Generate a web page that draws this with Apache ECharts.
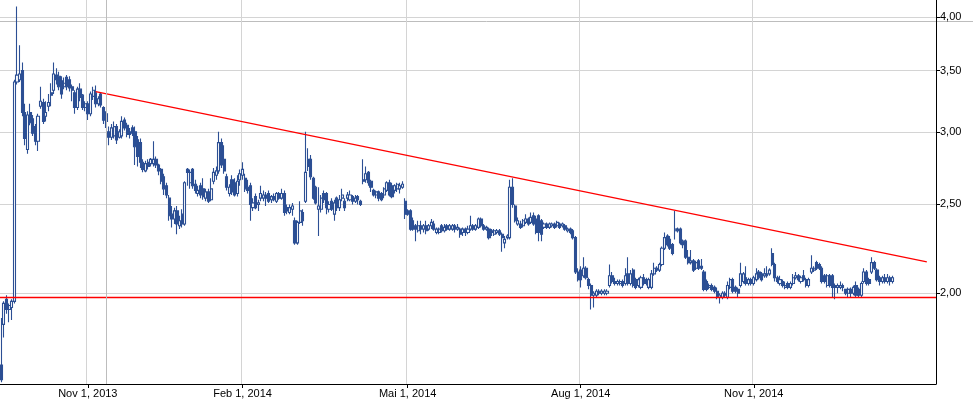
<!DOCTYPE html>
<html><head><meta charset="utf-8">
<script src="https://cdn.jsdelivr.net/npm/echarts@6/dist/echarts.min.js"></script>
<style>html,body{margin:0;padding:0;background:#fff}#c{width:973px;height:401px}</style>
</head><body><div id="c"></div>
<script>
// ---- data ----
const startDate = '2013-09-17';
const endDate = '2015-02-13';
const holidays = ['2013-12-24','2013-12-25','2013-12-26','2013-12-27','2013-12-31','2014-01-01','2014-01-02','2014-12-24','2014-12-25','2014-12-26','2014-12-31','2015-01-01'];
const tickDates = ['2013-11-01','2014-02-01','2014-05-01','2014-08-01','2014-11-01'];
const tickLabels = ['Nov 1, 2013','Feb 1, 2014','Mai 1, 2014','Aug 1, 2014','Nov 1, 2014'];
const yTicks = [2.0, 2.5, 3.0, 3.5, 4.0];
const yMin = 1.5926, yMax = 4.178;
const supportLevel = 1.975;
const trendStart = ['2013-11-06', 3.32];
const trendEnd = ['2015-02-10', 2.164];
const markerDate = '2013-11-12';
// [open, close, low, high]
const prices = [
[1.67,1.61,1.60,1.88],[1.85,1.95,1.79,1.96],[1.97,1.92,1.90,1.99],[1.92,1.94,1.86,1.95],[1.93,1.96,1.87,1.97],
[1.96,3.40,1.95,3.42],[3.40,3.46,3.38,4.11],[3.42,3.47,3.40,3.73],[3.50,3.15,3.12,3.57],[3.15,2.95,2.90,3.22],
[2.87,3.13,2.84,3.16],[3.15,3.07,3.05,3.22],[3.10,2.99,2.97,3.13],[3.04,2.93,2.90,3.06],[2.93,3.12,2.86,3.14],
[3.20,3.24,3.18,3.36],[3.23,3.08,3.06,3.26],[3.12,3.15,3.08,3.24],[3.20,3.23,3.16,3.30],[3.31,3.29,3.20,3.39],
[3.33,3.47,3.30,3.57],[3.46,3.42,3.38,3.52],[3.45,3.36,3.33,3.49],[3.41,3.30,3.26,3.45],[3.36,3.39,3.34,3.44],
[3.44,3.36,3.33,3.46],[3.42,3.35,3.32,3.45],[3.36,3.33,3.24,3.38],[3.31,3.19,3.14,3.33],[3.19,3.34,3.17,3.36],
[3.34,3.27,3.24,3.39],[3.29,3.19,3.17,3.30],[3.19,3.22,3.16,3.24],[3.22,3.14,3.09,3.24],[3.14,3.30,3.12,3.32],
[3.28,3.33,3.25,3.36],[3.31,3.22,3.19,3.37],[3.22,3.26,3.20,3.28],[3.30,3.21,3.19,3.31],[3.19,3.09,3.06,3.20],
[3.14,3.08,3.03,3.16],[3.00,2.96,2.90,3.04],[2.96,3.03,2.94,3.06],[2.97,3.04,2.95,3.08],[3.04,2.94,2.91,3.06],
[2.96,3.00,2.95,3.02],[2.97,3.08,2.95,3.12],[3.09,3.03,3.01,3.11],[3.05,2.98,2.96,3.07],[3.00,2.98,2.95,3.03],
[3.03,2.99,2.97,3.05],[3.00,2.89,2.76,3.04],[2.94,2.82,2.75,2.97],[2.92,2.78,2.74,2.95],[2.78,2.73,2.71,2.80],
[2.72,2.77,2.71,2.79],[2.78,2.75,2.73,2.80],[2.77,2.80,2.75,2.81],[2.77,2.80,2.75,2.93],[2.80,2.76,2.74,2.82],
[2.76,2.72,2.69,2.77],[2.73,2.65,2.63,2.74],[2.68,2.60,2.56,2.70],[2.62,2.56,2.54,2.64],[2.54,2.43,2.40,2.56],
[2.44,2.41,2.36,2.49],[2.41,2.46,2.38,2.48],[2.46,2.38,2.32,2.49],[2.37,2.40,2.35,2.43],[2.44,2.38,2.36,2.47],
[2.38,2.64,2.37,2.65],[2.73,2.71,2.62,2.74],[2.64,2.71,2.60,2.73],[2.73,2.62,2.60,2.74],[2.63,2.59,2.57,2.66],
[2.57,2.59,2.55,2.62],[2.62,2.56,2.54,2.64],[2.60,2.55,2.53,2.67],[2.54,2.58,2.52,2.60],[2.58,2.52,2.51,2.60],
[2.53,2.60,2.52,2.67],[2.65,2.71,2.63,2.74],[2.69,2.72,2.66,2.75],[2.72,2.92,2.70,3.00],[2.92,2.76,2.74,2.95],
[2.80,2.72,2.70,2.90],[2.68,2.61,2.59,2.70],[2.57,2.61,2.55,2.63],[2.66,2.58,2.56,2.69],[2.64,2.56,2.55,2.67],
[2.57,2.65,2.55,2.69],[2.66,2.70,2.62,2.73],[2.69,2.73,2.66,2.78],[2.67,2.60,2.58,2.70],[2.61,2.59,2.57,2.66],
[2.62,2.50,2.40,2.64],[2.48,2.51,2.46,2.54],[2.55,2.48,2.47,2.57],[2.50,2.51,2.46,2.53],[2.54,2.57,2.52,2.62],
[2.54,2.56,2.52,2.59],[2.56,2.54,2.49,2.58],[2.57,2.52,2.51,2.59],[2.53,2.55,2.51,2.56],[2.55,2.53,2.52,2.57],
[2.52,2.57,2.51,2.58],[2.57,2.54,2.53,2.58],[2.54,2.57,2.53,2.60],[2.57,2.45,2.43,2.59],[2.48,2.46,2.44,2.50],
[2.45,2.48,2.44,2.50],[2.47,2.49,2.43,2.51],[2.40,2.27,2.26,2.42],[2.27,2.39,2.26,2.40],[2.39,2.46,2.38,2.52],
[2.45,2.40,2.37,2.47],[2.52,2.71,2.51,3.00],[2.80,2.75,2.72,2.88],[2.80,2.68,2.66,2.83],[2.67,2.54,2.53,2.68],
[2.61,2.51,2.50,2.62],[2.47,2.49,2.31,2.61],[2.47,2.54,2.45,2.56],[2.57,2.53,2.51,2.59],[2.57,2.48,2.44,2.58],
[2.47,2.50,2.45,2.52],[2.52,2.47,2.46,2.54],[2.44,2.51,2.40,2.53],[2.54,2.48,2.46,2.55],[2.48,2.53,2.46,2.56],
[2.54,2.56,2.52,2.60],[2.52,2.48,2.46,2.54],[2.54,2.56,2.52,2.58],[2.53,2.56,2.52,2.59],[2.55,2.52,2.50,2.56],
[2.52,2.54,2.51,2.56],[2.55,2.53,2.50,2.56],[2.52,2.50,2.49,2.53],[2.66,2.65,2.63,2.80],[2.66,2.70,2.64,2.75],
[2.71,2.64,2.62,2.72],[2.65,2.61,2.58,2.66],[2.59,2.56,2.55,2.60],[2.56,2.58,2.54,2.59],[2.58,2.54,2.52,2.59],
[2.57,2.53,2.52,2.58],[2.56,2.60,2.54,2.61],[2.59,2.64,2.58,2.65],[2.64,2.56,2.55,2.66],[2.62,2.55,2.54,2.64],
[2.59,2.62,2.57,2.63],[2.60,2.63,2.58,2.64],[2.60,2.62,2.57,2.64],[2.61,2.63,2.60,2.65],[2.52,2.44,2.41,2.54],
[2.46,2.44,2.43,2.47],[2.46,2.35,2.34,2.47],[2.40,2.35,2.34,2.42],[2.37,2.35,2.28,2.38],[2.34,2.37,2.33,2.40],
[2.37,2.35,2.32,2.40],[2.35,2.37,2.33,2.38],[2.37,2.34,2.32,2.40],[2.35,2.37,2.34,2.38],[2.37,2.39,2.35,2.41],
[2.38,2.35,2.34,2.40],[2.33,2.35,2.32,2.36],[2.33,2.35,2.32,2.36],[2.37,2.34,2.33,2.38],[2.34,2.36,2.33,2.38],
[2.37,2.35,2.34,2.38],[2.35,2.37,2.34,2.38],[2.35,2.37,2.34,2.38],[2.37,2.35,2.33,2.38],[2.35,2.36,2.34,2.38],
[2.35,2.32,2.30,2.36],[2.33,2.35,2.31,2.36],[2.35,2.33,2.31,2.36],[2.33,2.35,2.32,2.37],[2.35,2.37,2.34,2.43],
[2.37,2.35,2.34,2.38],[2.35,2.37,2.34,2.38],[2.36,2.41,2.35,2.42],[2.41,2.37,2.36,2.42],[2.37,2.35,2.34,2.38],
[2.35,2.36,2.34,2.37],[2.35,2.30,2.29,2.36],[2.34,2.33,2.31,2.35],[2.32,2.34,2.31,2.35],[2.33,2.34,2.32,2.35],
[2.34,2.32,2.31,2.35],[2.32,2.30,2.22,2.33],[2.27,2.29,2.24,2.31],[2.30,2.31,2.29,2.32],[2.30,2.61,2.29,2.66],
[2.61,2.50,2.48,2.67],[2.49,2.40,2.39,2.50],[2.38,2.40,2.37,2.42],[2.38,2.36,2.35,2.40],[2.37,2.40,2.36,2.41],
[2.39,2.41,2.38,2.44],[2.41,2.38,2.37,2.42],[2.39,2.42,2.38,2.45],[2.43,2.38,2.37,2.45],[2.41,2.33,2.32,2.43],
[2.43,2.33,2.28,2.44],[2.40,2.32,2.28,2.41],[2.36,2.38,2.35,2.39],[2.38,2.36,2.35,2.39],[2.36,2.38,2.35,2.39],
[2.37,2.38,2.36,2.39],[2.38,2.36,2.35,2.39],[2.37,2.39,2.36,2.40],[2.38,2.36,2.35,2.39],[2.37,2.38,2.36,2.39],
[2.37,2.35,2.34,2.38],[2.34,2.35,2.33,2.36],[2.35,2.33,2.32,2.36],[2.34,2.30,2.29,2.35],[2.30,2.11,2.10,2.31],
[2.11,2.07,2.06,2.13],[2.12,2.07,2.03,2.14],[2.09,2.13,2.08,2.19],[2.13,2.08,2.07,2.14],[2.07,2.04,2.02,2.08],
[2.04,1.99,1.92,2.05],[1.99,2.00,1.93,2.01],[1.99,2.01,1.98,2.02],[2.01,2.00,1.99,2.02],[2.00,2.01,1.99,2.02],
[2.00,2.01,1.99,2.02],[2.00,2.01,1.99,2.02],[2.04,2.09,2.03,2.15],[2.09,2.06,2.05,2.11],[2.06,2.05,2.04,2.08],
[2.05,2.06,2.04,2.07],[2.05,2.06,2.04,2.07],[2.06,2.04,2.03,2.07],[2.05,2.09,2.04,2.13],[2.10,2.05,2.04,2.19],
[2.05,2.10,2.04,2.12],[2.12,2.04,2.03,2.13],[2.07,2.03,2.02,2.08],[2.04,2.07,2.03,2.08],[2.03,2.08,2.02,2.09],
[2.08,2.05,2.04,2.10],[2.07,2.05,2.04,2.08],[2.03,2.07,2.02,2.08],[2.03,2.10,2.02,2.12],[2.10,2.13,2.09,2.16],
[2.13,2.12,2.11,2.14],[2.12,2.15,2.11,2.16],[2.15,2.24,2.14,2.25],[2.24,2.30,2.23,2.33],[2.31,2.26,2.25,2.32],
[2.29,2.24,2.23,2.31],[2.26,2.21,2.20,2.27],[2.34,2.35,2.29,2.46],[2.35,2.34,2.33,2.36],[2.35,2.27,2.26,2.36],
[2.28,2.26,2.24,2.29],[2.28,2.19,2.18,2.29],[2.19,2.16,2.15,2.23],[2.16,2.17,2.15,2.23],[2.17,2.12,2.11,2.18],
[2.13,2.16,2.12,2.17],[2.17,2.13,2.12,2.18],[2.14,2.13,2.12,2.18],[2.11,2.02,2.01,2.12],[2.06,2.02,2.01,2.07],
[2.03,2.04,2.02,2.05],[2.04,2.02,2.01,2.05],[2.03,2.01,2.00,2.04],[2.01,1.98,1.97,2.03],[1.98,1.99,1.95,2.00],
[1.98,2.00,1.97,2.01],[2.00,1.99,1.98,2.01],[1.98,2.04,1.97,2.06],[2.03,2.07,2.02,2.08],[2.07,2.01,2.00,2.08],
[2.03,2.01,2.00,2.04],[2.02,2.00,1.98,2.03],[2.04,2.10,2.03,2.16],[2.06,2.10,2.05,2.11],[2.08,2.05,2.04,2.14],
[2.05,2.07,2.04,2.08],[2.07,2.05,2.04,2.08],[2.05,2.08,2.04,2.09],[2.07,2.10,2.06,2.13],[2.11,2.08,2.07,2.12],
[2.10,2.07,2.06,2.11],[2.09,2.10,2.08,2.13],[2.10,2.09,2.08,2.14],[2.10,2.12,2.09,2.13],[2.21,2.15,2.14,2.24],
[2.15,2.08,2.06,2.16],[2.08,2.06,2.05,2.09],[2.05,2.07,2.04,2.09],[2.06,2.04,2.03,2.07],[2.03,2.04,2.02,2.06],
[2.05,2.03,2.02,2.06],[2.03,2.05,2.02,2.06],[2.05,2.08,2.04,2.10],[2.08,2.09,2.07,2.11],[2.09,2.07,2.06,2.10],
[2.06,2.08,2.05,2.09],[2.09,2.07,2.06,2.12],[2.07,2.04,2.03,2.08],[2.04,2.07,2.03,2.08],[2.11,2.13,2.10,2.20],
[2.12,2.13,2.11,2.14],[2.16,2.13,2.12,2.17],[2.15,2.13,2.12,2.16],[2.13,2.06,2.05,2.14],[2.09,2.06,2.05,2.10],
[2.04,2.09,2.03,2.10],[2.09,2.04,2.03,2.10],[2.09,2.03,1.98,2.10],[2.04,2.03,1.97,2.05],[2.03,2.04,2.00,2.05],
[2.03,2.04,2.02,2.06],[2.04,2.03,2.01,2.05],[2.02,2.00,1.99,2.02],[2.00,2.02,1.98,2.03],[2.02,2.00,1.98,2.03],
[2.00,2.03,1.99,2.04],[2.04,1.99,1.98,2.06],[2.02,1.99,1.98,2.03],[1.99,2.05,1.98,2.06],[2.06,2.11,2.05,2.13],
[2.11,2.05,2.04,2.12],[2.07,2.05,2.04,2.08],[2.11,2.16,2.10,2.19],[2.16,2.13,2.12,2.17],[2.12,2.07,2.06,2.13],
[2.08,2.06,2.04,2.09],[2.06,2.08,2.05,2.09],[2.08,2.06,2.05,2.10],[2.06,2.08,2.05,2.10],[2.08,2.06,2.04,2.09],
[2.06,2.08,2.05,2.09]
];

// ---- trading-day categories ----
const categories = [];
(function () {
  let d = new Date(startDate + 'T00:00:00Z');
  const end = new Date(endDate + 'T00:00:00Z');
  while (d <= end) {
    const s = d.toISOString().slice(0, 10);
    const wd = d.getUTCDay();
    if (wd !== 0 && wd !== 6 && holidays.indexOf(s) < 0) categories.push(s);
    d = new Date(d.getTime() + 86400000);
  }
})();
const tickIndex = {};
tickDates.forEach(function (t, k) {
  const i = categories.findIndex(function (c) { return c >= t; });
  tickIndex[i] = tickLabels[k];
});
function isTick(i) { return Object.prototype.hasOwnProperty.call(tickIndex, i); }

const BLUE = '#2c4f94';
const RED = '#ff0000';
const chart = echarts.init(document.getElementById('c'), null, { renderer: 'canvas' });
chart.setOption({
  animation: false,
  backgroundColor: '#ffffff',
  grid: { left: 0, right: 37, top: 0, bottom: 17, containLabel: false },
  xAxis: {
    type: 'category', data: categories, boundaryGap: true,
    axisLine: { show: true, lineStyle: { color: '#000', width: 1 } },
    axisTick: { show: true, interval: function (i) { return isTick(i); }, alignWithLabel: true, length: 4, lineStyle: { color: '#000' } },
    axisLabel: { interval: function (i) { return isTick(i); }, formatter: function (v, i) { return tickIndex[i] || ''; },
      color: '#000', fontFamily: 'Liberation Sans, Arial, sans-serif', fontSize: 11, margin: 4 },
    splitLine: { show: true, interval: function (i) { return isTick(i); }, lineStyle: { color: '#d4d4d4', width: 1 } }
  },
  yAxis: {
    type: 'log', position: 'right', min: yMin, max: yMax, logBase: 10,
    axisLine: { show: true, lineStyle: { color: '#000', width: 1 } },
    axisTick: { show: true, customValues: yTicks, length: 4, lineStyle: { color: '#000' } },
    axisLabel: { customValues: yTicks, formatter: function (v) { return Number(v).toFixed(2).replace('.', ','); },
      color: '#000', fontFamily: 'Liberation Sans, Arial, sans-serif', fontSize: 11, margin: 4 },
    splitLine: { show: true, lineStyle: { color: '#d4d4d4', width: 1 } }
  },
  graphic: [{
    type: 'line', silent: true, z: 0,
    shape: { x1: 0, y1: 21.5, x2: 973, y2: 21.5 },
    style: { stroke: '#bdbdbd', lineWidth: 1 }
  }],
  series: [{
    type: 'candlestick', data: prices, barWidth: 2.6,
    itemStyle: { color: '#ffffff', color0: BLUE, borderColor: BLUE, borderColor0: BLUE, borderWidth: 1.1 },
    markLine: {
      silent: true, symbol: ['none', 'none'], label: { show: false }, animation: false,
      lineStyle: { color: RED, width: 1.3, type: 'solid', opacity: 1 },
      emphasis: { disabled: true },
      data: [
        { yAxis: supportLevel, lineStyle: { color: RED, width: 1.3, type: 'solid' } },
        [ { coord: trendStart }, { coord: trendEnd } ],
        { xAxis: markerDate, lineStyle: { color: '#bdbdbd', width: 1, type: 'solid' } }
      ]
    }
  }]
});
</script></body></html>
